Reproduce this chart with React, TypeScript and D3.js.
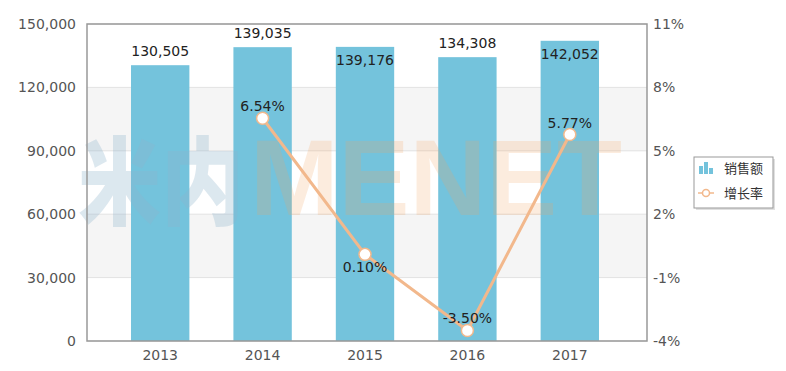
import * as d3 from "d3";

const years = ["2013", "2014", "2015", "2016", "2017"];
const sales = [130505, 139035, 139176, 134308, 142052];
const growth: (number | null)[] = [null, 6.54, 0.1, -3.5, 5.77];
const leftTicks = [0, 30000, 60000, 90000, 120000, 150000];
const rightTicks = [-4, -1, 2, 5, 8, 11];
// labels that sit inside the bar / below the point in the original
const barLabelsInside = ["2015", "2017"];
const rateLabelsBelow = ["2015"];

const W = 786;
const H = 371;
const plot = { left: 87, right: 647, top: 24, bottom: 341 };
const font = "'DejaVu Sans', Verdana, sans-serif";
const barColor = "#74c3dc";
const lineColor = "#f2b88c";

export default function App() {
  const x = d3.scaleBand().domain(years).range([109, 621]).paddingInner(0.43).paddingOuter(0.215);
  const xc = (d: string) => (x(d) as number) + x.bandwidth() / 2;
  const y = d3.scaleLinear().domain([0, 150000]).range([plot.bottom, plot.top]);
  const y2 = d3.scaleLinear().domain([-4, 11]).range([plot.bottom, plot.top]);
  const fmt = d3.format(",");

  const pts = years
    .map((yr, i) => ({ yr, v: growth[i] }))
    .filter((p) => p.v !== null) as { yr: string; v: number }[];
  const line = d3
    .line<{ yr: string; v: number }>()
    .x((d) => xc(d.yr))
    .y((d) => y2(d.v));

  return (
    <svg width={W} height={H} style={{ position: "absolute", left: 0, top: 0, background: "#fff" }} fontFamily={font}>
      {/* alternating bands */}
      {leftTicks.slice(0, -1).map((t, i) =>
        i % 2 === 1 ? (
          <rect key={"band" + t} x={plot.left} width={plot.right - plot.left} y={y(leftTicks[i + 1])} height={y(t) - y(leftTicks[i + 1])} fill="#f5f5f5" />
        ) : null
      )}
      {leftTicks.map((t) => (
        <line key={"g" + t} x1={plot.left} x2={plot.right} y1={y(t)} y2={y(t)} stroke="#e2e2e2" strokeWidth={1} />
      ))}

      {/* bars */}
      {years.map((yr, i) => (
        <rect key={"b" + yr} x={x(yr)} width={x.bandwidth()} y={y(sales[i])} height={plot.bottom - y(sales[i])} fill={barColor} />
      ))}

      {/* watermark */}
      <text x={78} y={217} fontFamily="'Noto Sans CJK SC', sans-serif" fontWeight={900} fontSize={96} textLength={166} lengthAdjust="spacingAndGlyphs" fill="#8fb4cc" opacity={0.3}>
        米内
      </text>
      <text x={250} y={215} fontFamily="'Liberation Sans', Arial, sans-serif" fontWeight={700} fontSize={108} textLength={372} lengthAdjust="spacingAndGlyphs" fill="#f5a35e" opacity={0.2}>
        MENET
      </text>

      {/* frame */}
      <rect x={plot.left} y={plot.top} width={plot.right - plot.left} height={plot.bottom - plot.top} fill="none" stroke="#999" strokeWidth={1.5} />

      {/* bar labels */}
      {years.map((yr, i) => {
        const inside = barLabelsInside.includes(yr);
        return (
          <text key={"bl" + yr} x={xc(yr)} y={y(sales[i]) + (inside ? 18 : -9)} textAnchor="middle" fontSize={14} fill="#222">
            {fmt(sales[i])}
          </text>
        );
      })}

      {/* growth line */}
      <path d={line(pts) as string} fill="none" stroke={lineColor} strokeWidth={3} />
      {pts.map((p) => (
        <circle key={"c" + p.yr} cx={xc(p.yr)} cy={y2(p.v)} r={6} fill="#fff" stroke={lineColor} strokeWidth={1.5} />
      ))}
      {pts.map((p) => {
        const below = rateLabelsBelow.includes(p.yr);
        return (
          <text key={"pl" + p.yr} x={xc(p.yr)} y={y2(p.v) + (below ? 18 : -7)} textAnchor="middle" fontSize={14} fill="#222">
            {p.v.toFixed(2) + "%"}
          </text>
        );
      })}

      {/* axes labels */}
      {leftTicks.map((t) => (
        <text key={"lt" + t} x={76} y={y(t) + 5} textAnchor="end" fontSize={14} fill="#555">
          {fmt(t)}
        </text>
      ))}
      {rightTicks.map((t) => (
        <text key={"rt" + t} x={653} y={y2(t) + 5} textAnchor="start" fontSize={14} fill="#555">
          {t + "%"}
        </text>
      ))}
      {years.map((yr) => (
        <text key={"xt" + yr} x={xc(yr)} y={360} textAnchor="middle" fontSize={14} fill="#555">
          {yr}
        </text>
      ))}

      {/* legend */}
      <rect x={696} y={159} width={79} height={51} fill="#ccc" opacity={0.6} />
      <rect x={694} y={157} width={79} height={51} fill="#fff" stroke="#999" strokeWidth={1} />
      <g fill={barColor}>
        <rect x={699} y={166} width={4} height={8} />
        <rect x={704} y={162} width={4} height={12} />
        <rect x={709} y={168} width={4} height={6} />
      </g>
      <text x={724} y={173} fontFamily="'Noto Sans CJK SC', sans-serif" fontSize={13} fill="#333">销售额</text>
      <line x1={698} x2={714} y1={193} y2={193} stroke={lineColor} strokeWidth={1.5} />
      <circle cx={706} cy={193} r={3.5} fill="#fff" stroke={lineColor} strokeWidth={1.5} />
      <text x={724} y={198} fontFamily="'Noto Sans CJK SC', sans-serif" fontSize={13} fill="#333">增长率</text>
    </svg>
  );
}
